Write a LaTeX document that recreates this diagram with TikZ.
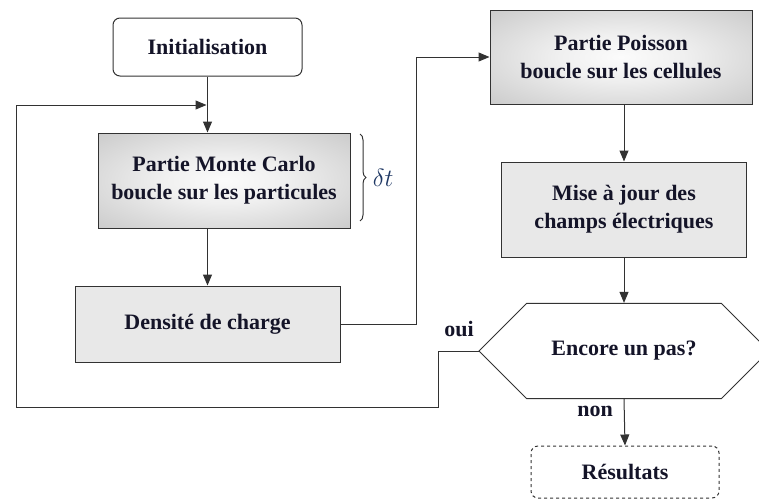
\documentclass[tikz,border=0pt]{standalone}
\usepackage{fontspec}
\setmainfont{Liberation Serif}
\usepackage{tikz}
\usetikzlibrary{arrows.meta}
\usetikzlibrary{shapes.misc}
\usetikzlibrary{decorations.pathreplacing}
\definecolor{trait}{RGB}{50,50,50}
\definecolor{texte}{RGB}{20,20,40}
\definecolor{bleu}{RGB}{31,56,100}
\pgfdeclareradialshading{ombre}{\pgfpoint{0bp}{0bp}}{color(0bp)=(gray!3); color(12bp)=(gray!12); color(35bp)=(gray!40); color(50bp)=(gray!62)}

\begin{document}
\begin{tikzpicture}[x=1pt, y=-1pt,
        boite/.style={draw=trait, line width=1pt, align=center, text=texte,
            font=\fontsize{22}{28}\selectfont\bfseries, inner sep=0pt},
        grad/.style={boite, shading=ombre},
        plein/.style={boite, fill=gray!18},
        etiq/.style={text=texte, font=\fontsize{22}{28}\selectfont\bfseries},
        fleche/.style={draw=trait, line width=1pt, -{Triangle[length=11pt, width=9pt]}},
        lien/.style={draw=trait, line width=1pt}]
        \useasboundingbox (0,0) rectangle (759,501);
        \node[boite, rounded corners=7pt, minimum width=189pt, minimum height=58pt] (init) at (207.5,47) {Initialisation};
        \node[grad, minimum width=252pt, minimum height=95pt] (mc) at (224,180.5) {Partie Monte Carlo\\boucle sur les particules};
        \node[plein, minimum width=265pt, minimum height=76pt] (dens) at (207.5,324) {Densit\'e de charge};
        \node[grad, minimum width=262pt, minimum height=94pt] (poisson) at (621,57) {Partie Poisson\\boucle sur les cellules};
        \node[plein, minimum width=245pt, minimum height=95pt] (mise) at (624,209.5) {Mise \`a jour des\\champs \'electriques};
        \node[boite, chamfered rectangle, chamfered rectangle xsep=72.5pt, chamfered rectangle ysep=38pt,
            minimum width=290pt, minimum height=76pt] (pas) at (624,351) {Encore un pas?};
        \node[boite, dashed, rounded corners=7pt, minimum width=188pt, minimum height=52pt] (res) at (625,472) {R\'esultats};
        \node[etiq] (oui) at (459,329) {oui};
        \node[etiq] (non) at (595,411) {non};
        \coordinate (bas) at (16,407);
        \coordinate (haut) at (16,105);

        \draw[fleche] (init.south) -- (init.south |- mc.north);
        \draw[fleche] (dens.north |- mc.south) -- (dens.north);
        \draw[fleche] (dens.east) -- ++(76,0) |- (poisson.west);
        \draw[fleche] (mise.north |- poisson.south) -- (mise.north);
        \draw[fleche] (mise.south) -- (pas.north);
        \draw[fleche] (pas.south) -- (res.north);
        \draw[fleche] (pas.west) -- ++(-40,0) |- (bas) -- (haut) -- ([xshift=-1pt]haut -| init.south);
        \draw[lien, decorate, decoration={brace, amplitude=6pt}] (360,134) -- (360,221) node[pos=0.5, right=9pt, text=bleu, font=\fontsize{27}{30}\selectfont] (dt) {$\delta t$};
    \end{tikzpicture}
\end{document}
